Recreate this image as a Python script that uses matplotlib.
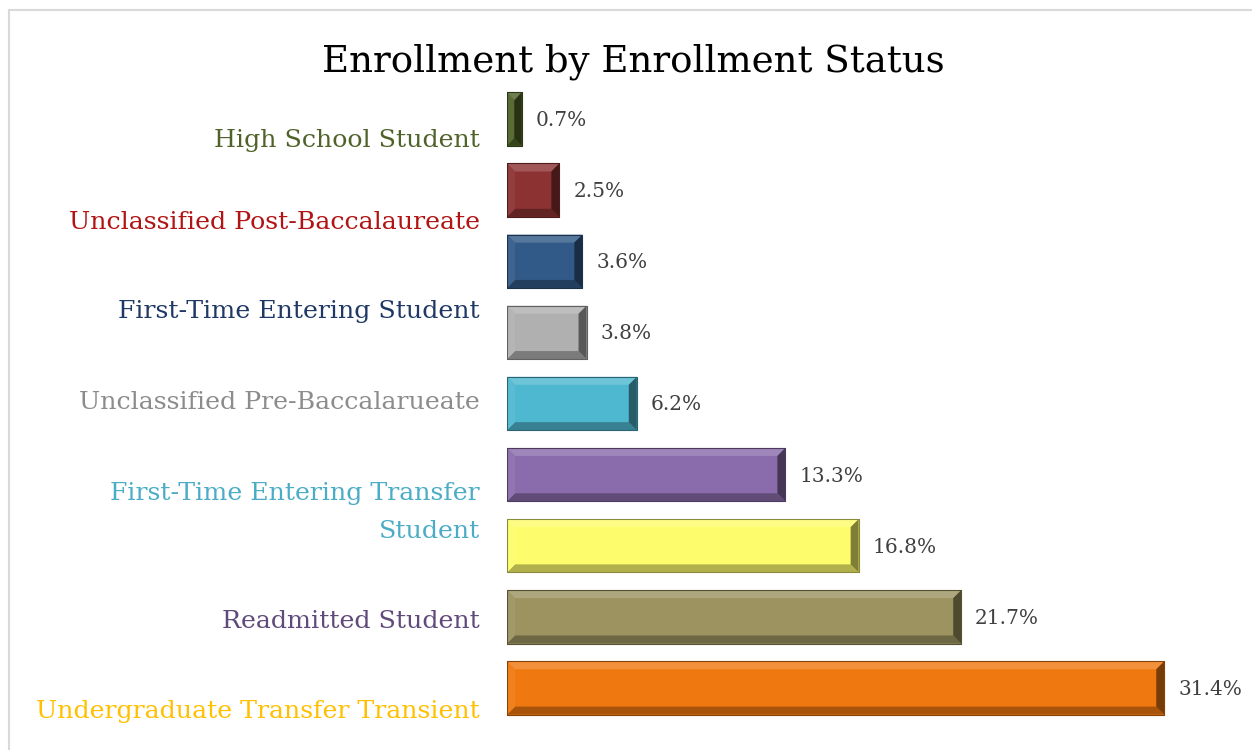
import numpy as np
import matplotlib
matplotlib.use("Agg")
import matplotlib.pyplot as plt
from matplotlib.patches import Polygon, Rectangle
from matplotlib.colors import to_rgb

# donnees (du bas vers le haut)
valeurs = [31.4, 21.7, 16.8, 13.3, 6.2, 3.8, 3.6, 2.5, 0.7]
couleurs_barres = ["#F07810", "#9C9360", "#FCFC6C", "#8A6CAC", "#4EB8D0",
                   "#B0B0B0", "#325A88", "#8C3232", "#4F6228"]

# etiquettes de gauche (Excel n'en affiche que 7, decalees)
etiquettes = ["Undergraduate Transfer Transient", "Readmitted Student",
              "First-Time Entering Transfer\nStudent", "Unclassified Pre-Baccalarueate",
              "First-Time Entering Student", "Unclassified Post-Baccalaureate",
              "High School Student"]
pos_etiquettes = [-0.33, 0.93, 2.47, 4.01, 5.29, 6.55, 7.70]
couleurs_etiquettes = ["#FFC000", "#604A7B", "#4BACC6", "#8C8C8C",
                       "#1F3864", "#B01414", "#4F6228"]

titre = "Enrollment by Enrollment Status"

plt.rcParams['font.family'] = ['DejaVu Serif']

W, H = 1252, 750
fig = plt.figure(figsize=(W / 100, H / 100), dpi=100)

# cadre gris du graphique
fig.patches.append(Rectangle((9 / W, -0.2), 1.2, 1.2 - 10 / H, transform=fig.transFigure,
                             fill=False, edgecolor="#D9D9D9", linewidth=1.5))

ax = fig.add_axes([507 / W, 1 - 723.5 / H, 732.6 / W, 640 / H])
y = np.arange(len(valeurs))
barres = ax.barh(y, valeurs, height=0.75, color=couleurs_barres,
                 edgecolor="#303030", linewidth=0.6)
ax.set_xlim(0, 35)
ax.set_ylim(-0.5, len(valeurs) - 0.5)
ax.axis("off")


def melange(c, autre, t):
    c = np.array(to_rgb(c))
    return tuple(c * (1 - t) + np.array(autre) * t)


# effet biseau : 4 trapezes par barre
bx = 8 / 20.93  # ~8 px en unites de donnees
by = 8 / 71.1
for b, c in zip(barres, couleurs_barres):
    x0, y0 = b.get_x(), b.get_y()
    x1, y1 = x0 + b.get_width(), y0 + b.get_height()
    dx = min(bx, b.get_width() / 2)
    haut = [(x0, y1), (x1, y1), (x1 - dx, y1 - by), (x0 + dx, y1 - by)]
    bas = [(x0, y0), (x1, y0), (x1 - dx, y0 + by), (x0 + dx, y0 + by)]
    gauche = [(x0, y0), (x0, y1), (x0 + dx, y1 - by), (x0 + dx, y0 + by)]
    droite = [(x1, y0), (x1, y1), (x1 - dx, y1 - by), (x1 - dx, y0 + by)]
    ax.add_patch(Polygon(haut, closed=True, color=melange(c, (1, 1, 1), 0.18), lw=0))
    ax.add_patch(Polygon(bas, closed=True, color=melange(c, (0, 0, 0), 0.3), lw=0))
    ax.add_patch(Polygon(gauche, closed=True, color=melange(c, (1, 1, 1), 0.06), lw=0))
    ax.add_patch(Polygon(droite, closed=True, color=melange(c, (0, 0, 0), 0.5), lw=0))
    ax.add_patch(Rectangle((x0, y0), x1 - x0, y1 - y0, fill=False,
                           edgecolor=melange(c, (0, 0, 0), 0.45), lw=0.8))

# valeurs
for yi, v in zip(y, valeurs):
    ax.annotate(f"{v:.1f}%", (v, yi), xytext=(10, -1), textcoords="offset points",
                ha="left", va="center", fontsize=14.5, color="#404040")

# etiquettes de categories
for lab, p, c in zip(etiquettes, pos_etiquettes, couleurs_etiquettes):
    ax.text(-27 / 732.6, p, lab, transform=ax.get_yaxis_transform(),
            ha="right", va="center", fontsize=18.2, color=c, linespacing=1.85,
            multialignment="right")

fig.text(633 / W, 1 - 62 / H, titre, ha="center", va="center", fontsize=26.7, color="black")

fig.savefig("out.png", dpi=100)
